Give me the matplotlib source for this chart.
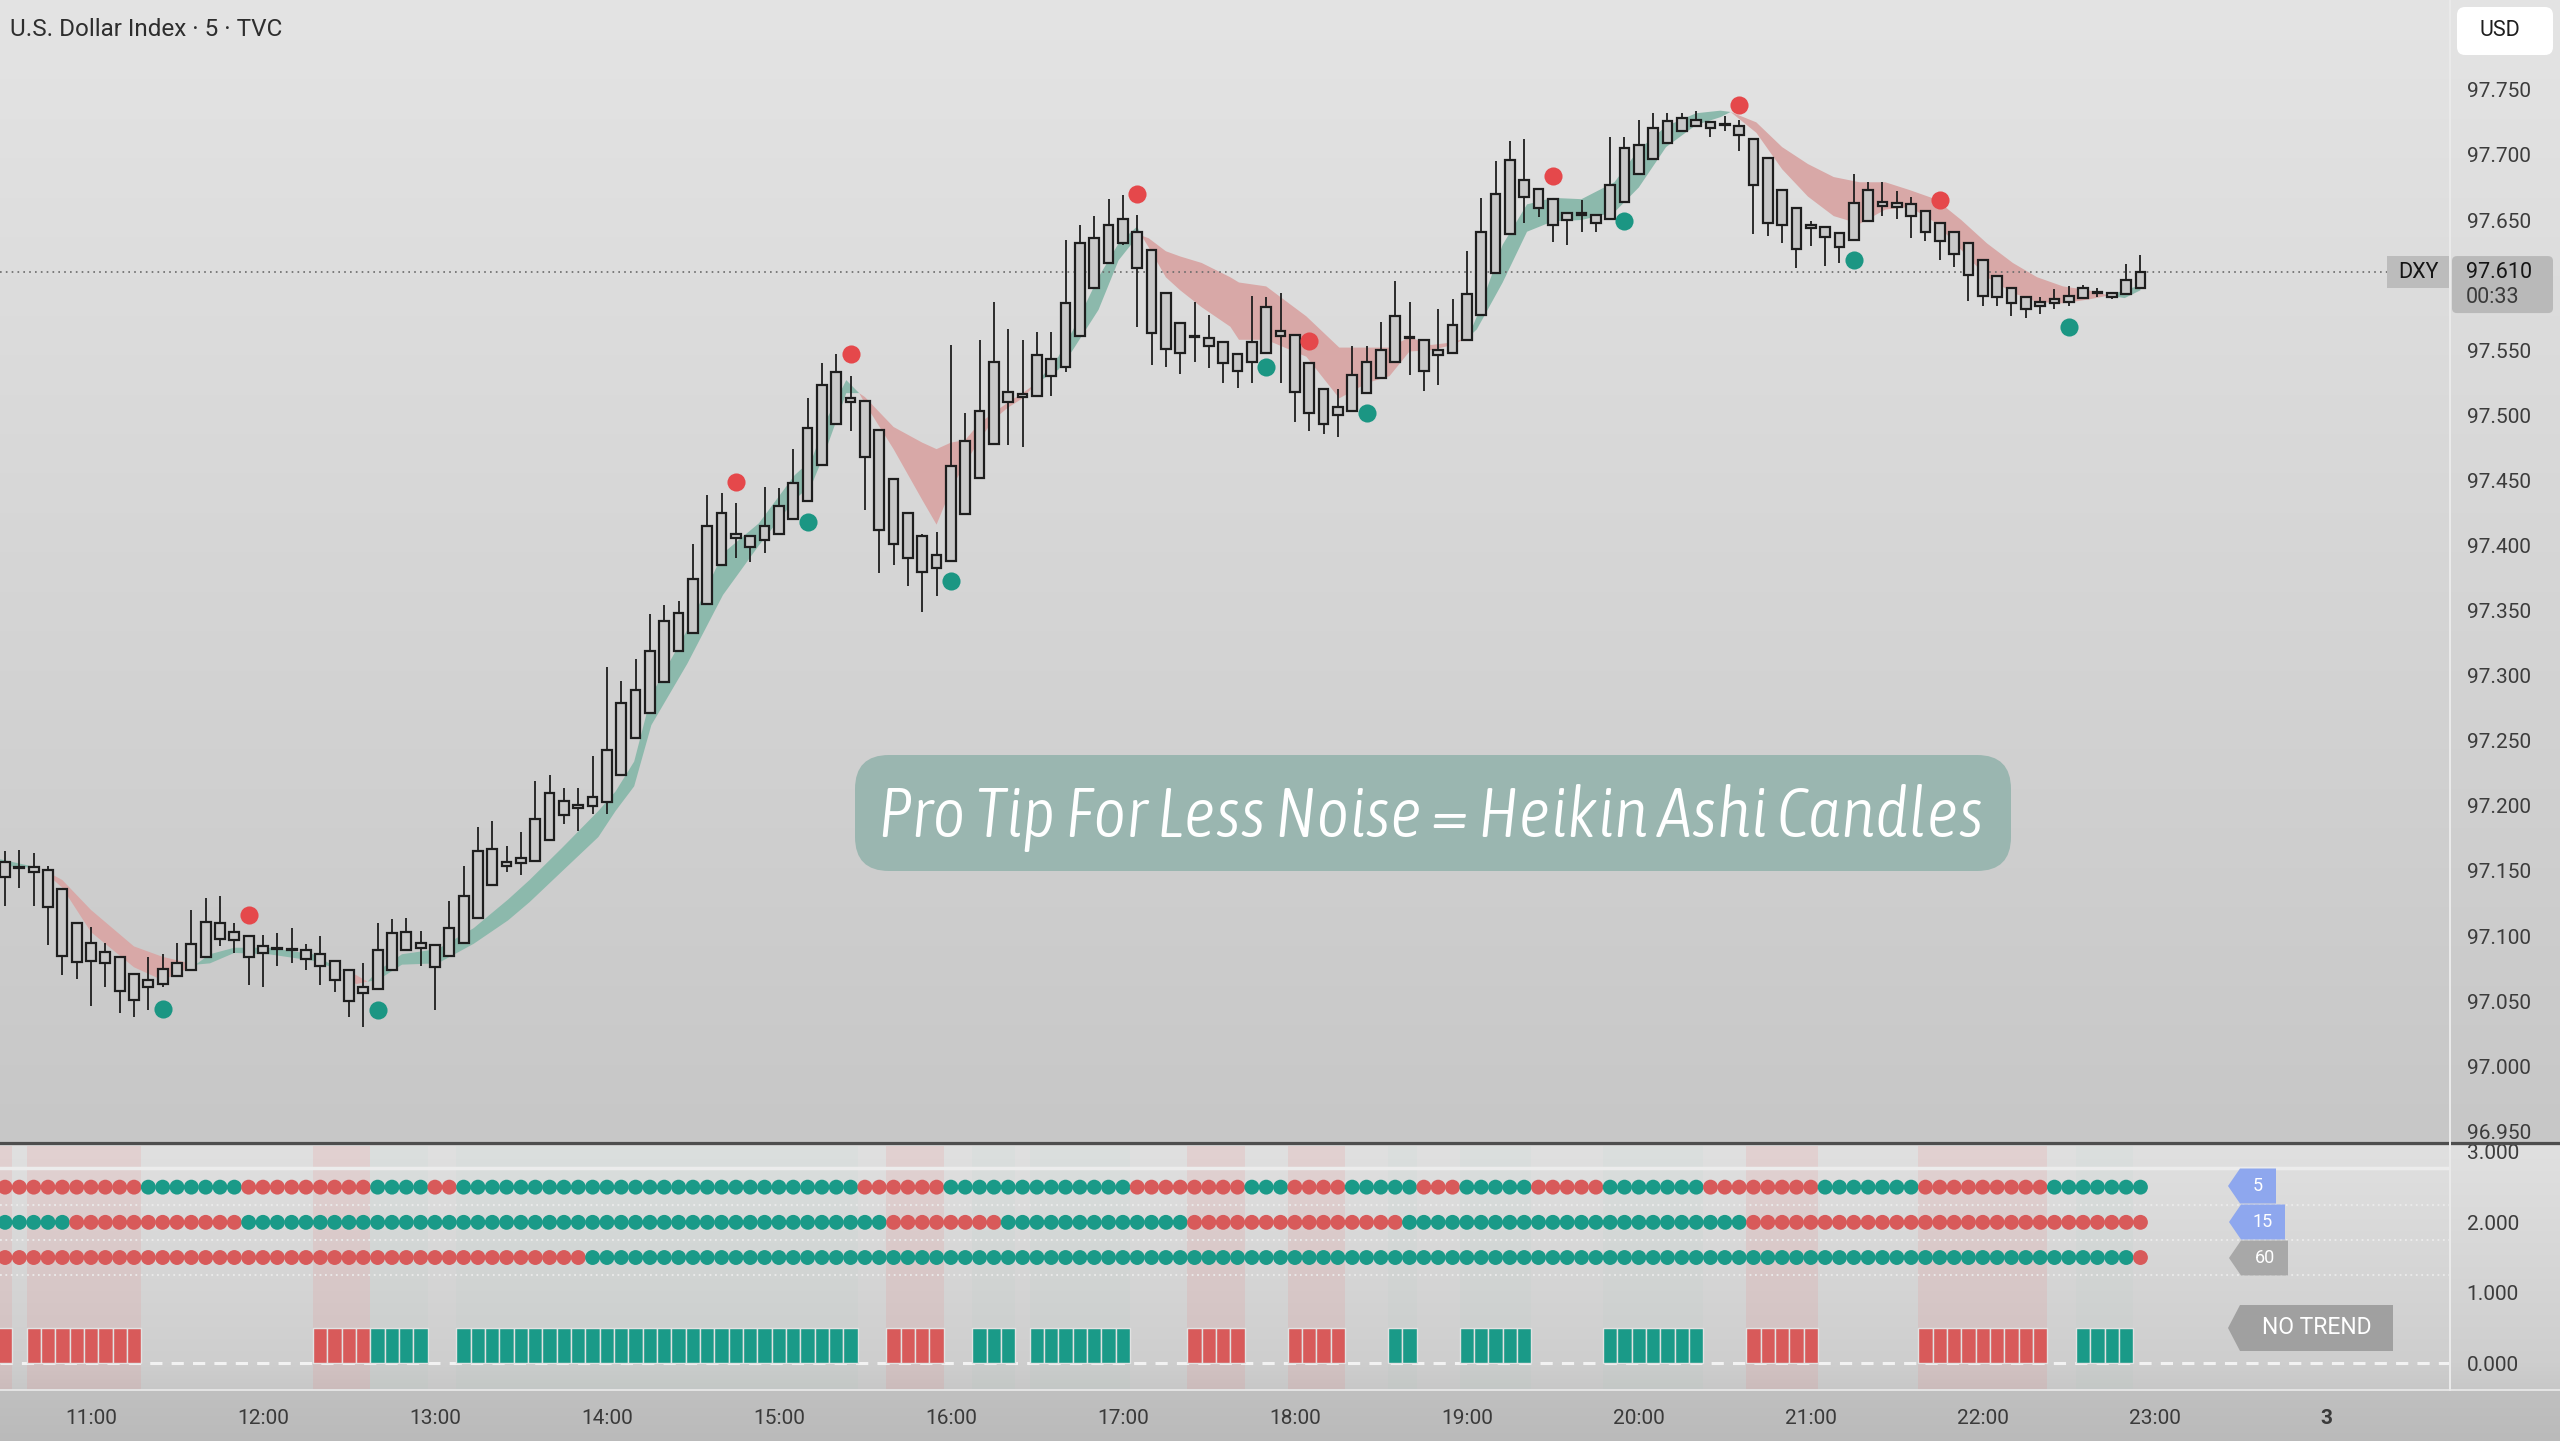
import os
import numpy as np
import matplotlib
matplotlib.use("Agg")
import matplotlib.pyplot as plt
from matplotlib import font_manager as fm
from matplotlib.font_manager import FontProperties
from matplotlib.patches import FancyBboxPatch, Polygon, Rectangle
from matplotlib.lines import Line2D

plt.rcParams['font.family'] = ['Roboto', 'DejaVu Sans']

# ---- U.S. Dollar Index, 5 min Heikin Ashi candles; bar 0 = 11:00, first bar = 10:30
bar_start = -6
opens = [97.157, 97.153, 97.153, 97.151, 97.136, 97.110, 97.095, 97.088, 97.084, 97.071,
         97.061, 97.063, 97.069, 97.074, 97.084, 97.098, 97.103, 97.100, 97.092, 97.091,
         97.090, 97.089, 97.086, 97.081, 97.074, 97.061, 97.059, 97.074, 97.089, 97.091,
         97.093, 97.085, 97.095, 97.114, 97.139, 97.157, 97.156, 97.158, 97.174, 97.204,
         97.201, 97.200, 97.203, 97.224, 97.252, 97.271, 97.295, 97.319, 97.333, 97.355,
         97.385, 97.409, 97.407, 97.404, 97.409, 97.420, 97.434, 97.462, 97.493, 97.513,
         97.511, 97.489, 97.451, 97.425, 97.407, 97.393, 97.388, 97.424, 97.452, 97.478,
         97.510, 97.514, 97.515, 97.530, 97.537, 97.561, 97.598, 97.617, 97.632, 97.641,
         97.627, 97.594, 97.571, 97.561, 97.559, 97.556, 97.547, 97.541, 97.548, 97.565,
         97.562, 97.540, 97.520, 97.506, 97.503, 97.517, 97.529, 97.541, 97.560, 97.558,
         97.546, 97.548, 97.558, 97.577, 97.609, 97.639, 97.681, 97.674, 97.666, 97.655,
         97.655, 97.654, 97.651, 97.664, 97.685, 97.697, 97.709, 97.718, 97.722, 97.725,
         97.724, 97.722, 97.712, 97.698, 97.673, 97.659, 97.646, 97.645, 97.640, 97.635,
         97.649, 97.661, 97.660, 97.662, 97.657, 97.648, 97.641, 97.632, 97.619, 97.607,
         97.598, 97.591, 97.587, 97.586, 97.587, 97.590, 97.594, 97.594, 97.593, 97.598]
highs = [97.165, 97.166, 97.164, 97.154, 97.136, 97.110, 97.107, 97.095, 97.084, 97.071,
         97.084, 97.086, 97.095, 97.120, 97.129, 97.131, 97.110, 97.100, 97.101, 97.102,
         97.106, 97.094, 97.100, 97.081, 97.074, 97.079, 97.110, 97.113, 97.114, 97.104,
         97.093, 97.127, 97.154, 97.184, 97.188, 97.169, 97.180, 97.219, 97.224, 97.214,
         97.214, 97.238, 97.307, 97.296, 97.313, 97.347, 97.354, 97.357, 97.401, 97.439,
         97.440, 97.433, 97.407, 97.445, 97.444, 97.474, 97.513, 97.540, 97.547, 97.530,
         97.511, 97.489, 97.451, 97.425, 97.409, 97.410, 97.554, 97.502, 97.558, 97.587,
         97.566, 97.558, 97.564, 97.564, 97.635, 97.646, 97.653, 97.666, 97.669, 97.654,
         97.627, 97.594, 97.571, 97.587, 97.577, 97.556, 97.547, 97.592, 97.591, 97.594,
         97.562, 97.540, 97.520, 97.520, 97.553, 97.553, 97.572, 97.603, 97.587, 97.558,
         97.582, 97.589, 97.626, 97.667, 97.695, 97.711, 97.712, 97.674, 97.666, 97.655,
         97.665, 97.654, 97.714, 97.714, 97.727, 97.732, 97.732, 97.732, 97.734, 97.725,
         97.730, 97.727, 97.712, 97.698, 97.673, 97.659, 97.649, 97.645, 97.640, 97.685,
         97.679, 97.679, 97.672, 97.668, 97.657, 97.648, 97.641, 97.632, 97.619, 97.607,
         97.598, 97.591, 97.591, 97.597, 97.599, 97.600, 97.598, 97.594, 97.616, 97.623]
lows = [97.123, 97.137, 97.123, 97.093, 97.070, 97.067, 97.046, 97.061, 97.041, 97.038,
        97.043, 97.061, 97.069, 97.074, 97.084, 97.092, 97.087, 97.062, 97.061, 97.077,
        97.079, 97.074, 97.062, 97.057, 97.038, 97.030, 97.059, 97.074, 97.089, 97.077,
        97.043, 97.085, 97.095, 97.114, 97.139, 97.149, 97.147, 97.158, 97.174, 97.186,
        97.181, 97.194, 97.194, 97.224, 97.252, 97.271, 97.295, 97.319, 97.333, 97.355,
        97.385, 97.390, 97.387, 97.394, 97.409, 97.420, 97.434, 97.462, 97.493, 97.488,
        97.427, 97.379, 97.385, 97.369, 97.349, 97.361, 97.388, 97.424, 97.452, 97.478,
        97.477, 97.476, 97.515, 97.515, 97.533, 97.561, 97.598, 97.617, 97.631, 97.568,
        97.539, 97.537, 97.532, 97.541, 97.536, 97.525, 97.521, 97.525, 97.548, 97.525,
        97.495, 97.488, 97.486, 97.483, 97.503, 97.517, 97.529, 97.541, 97.531, 97.519,
        97.523, 97.548, 97.558, 97.577, 97.609, 97.639, 97.648, 97.652, 97.633, 97.631,
        97.641, 97.641, 97.651, 97.664, 97.685, 97.697, 97.709, 97.718, 97.722, 97.714,
        97.718, 97.703, 97.639, 97.638, 97.632, 97.613, 97.630, 97.615, 97.617, 97.635,
        97.649, 97.653, 97.651, 97.636, 97.634, 97.619, 97.614, 97.588, 97.584, 97.584,
        97.576, 97.575, 97.578, 97.582, 97.584, 97.590, 97.591, 97.589, 97.593, 97.598]
closes = [97.145, 97.152, 97.149, 97.122, 97.085, 97.080, 97.081, 97.079, 97.058, 97.051,
          97.066, 97.075, 97.079, 97.094, 97.111, 97.110, 97.097, 97.084, 97.087, 97.090,
          97.089, 97.082, 97.077, 97.066, 97.050, 97.056, 97.089, 97.102, 97.103, 97.095,
          97.076, 97.106, 97.131, 97.165, 97.167, 97.154, 97.160, 97.190, 97.210, 97.193,
          97.198, 97.207, 97.243, 97.279, 97.289, 97.319, 97.342, 97.348, 97.374, 97.415,
          97.425, 97.406, 97.399, 97.415, 97.430, 97.448, 97.490, 97.523, 97.533, 97.510,
          97.468, 97.412, 97.401, 97.390, 97.380, 97.383, 97.461, 97.480, 97.503, 97.541,
          97.518, 97.516, 97.546, 97.543, 97.586, 97.632, 97.636, 97.646, 97.651, 97.613,
          97.563, 97.551, 97.548, 97.560, 97.553, 97.540, 97.534, 97.556, 97.583, 97.561,
          97.518, 97.502, 97.493, 97.500, 97.531, 97.541, 97.550, 97.576, 97.559, 97.534,
          97.550, 97.569, 97.593, 97.641, 97.670, 97.696, 97.668, 97.659, 97.646, 97.650,
          97.654, 97.648, 97.677, 97.705, 97.708, 97.721, 97.726, 97.728, 97.727, 97.721,
          97.723, 97.715, 97.677, 97.648, 97.646, 97.628, 97.644, 97.637, 97.629, 97.663,
          97.673, 97.664, 97.663, 97.653, 97.641, 97.634, 97.624, 97.608, 97.592, 97.591,
          97.586, 97.582, 97.584, 97.589, 97.592, 97.598, 97.595, 97.591, 97.604, 97.610]

# moving-average ribbon (fast / slow), read at these bar positions
band_x = [-6.35, -3.5, -2, 0, 3, 5, 7.3, 8.3, 10, 12.4, 15.5, 17.6, 18.5, 19.3, 20, 21.7,
          24.2, 26.7, 29.1, 30.6, 32.9, 35.4, 36.6, 37.9, 39.1, 41.6, 44.1, 46.6, 49.1,
          50.3, 51.2, 52.7, 53.6, 54, 56, 58, 59, 60, 61, 62, 63, 64, 65, 66, 67.5, 68.5,
          70.3, 71.7, 73, 73.3, 73.8, 75, 76, 77.5, 79.5, 80.1, 82, 84.8, 87.1, 89.1,
          90.6, 92, 93.5, 95, 96.1, 96.7, 98.5, 100.2, 102, 104, 106.3, 108, 109.9, 112,
          113.7, 114.4, 116.2, 118, 119.8, 121.6, 123.4, 125.2, 126.9, 128.7, 130.5,
          132.3, 134.1, 135.8, 137.6, 139.4, 140.8, 141.9, 143]
band_fast = [97.159, 97.152, 97.137, 97.103, 97.076, 97.066, 97.078, 97.086, 97.091, 97.091,
             97.086, 97.073, 97.063, 97.065, 97.073, 97.086, 97.090, 97.106, 97.128, 97.143,
             97.168, 97.196, 97.211, 97.234, 97.285, 97.335, 97.394, 97.417, 97.454, 97.466,
             97.494, 97.527, 97.517, 97.509, 97.474, 97.435, 97.416, 97.443, 97.463, 97.481,
             97.497, 97.506, 97.513, 97.525, 97.545, 97.565, 97.606, 97.632, 97.645, 97.638,
             97.629, 97.606, 97.596, 97.583, 97.568, 97.558, 97.558, 97.545, 97.513, 97.525,
             97.530, 97.549, 97.550, 97.554, 97.560, 97.576, 97.631, 97.662, 97.667, 97.666,
             97.679, 97.704, 97.722, 97.732, 97.734, 97.733, 97.717, 97.689, 97.668, 97.653,
             97.647, 97.658, 97.660, 97.648, 97.627, 97.606, 97.594, 97.587, 97.586, 97.589,
             97.592, 97.596, 97.600]
band_slow = [97.154, 97.152, 97.143, 97.120, 97.092, 97.084, 97.078, 97.079, 97.087, 97.086,
             97.081, 97.073, 97.070, 97.065, 97.066, 97.078, 97.079, 97.094, 97.112, 97.126,
             97.150, 97.176, 97.196, 97.215, 97.262, 97.309, 97.362, 97.400, 97.435, 97.447,
             97.471, 97.517, 97.517, 97.514, 97.491, 97.479, 97.474, 97.479, 97.481, 97.494,
             97.502, 97.510, 97.517, 97.525, 97.535, 97.550, 97.581, 97.619, 97.637, 97.638,
             97.636, 97.626, 97.622, 97.617, 97.606, 97.602, 97.599, 97.576, 97.552, 97.552,
             97.552, 97.560, 97.554, 97.556, 97.560, 97.566, 97.602, 97.641, 97.649, 97.650,
             97.656, 97.675, 97.706, 97.723, 97.729, 97.733, 97.725, 97.706, 97.693, 97.683,
             97.679, 97.679, 97.673, 97.666, 97.650, 97.632, 97.617, 97.606, 97.599, 97.596,
             97.592, 97.590, 97.596]

pivot_hi_bar = [11, 45, 53, 73, 85, 102, 115, 129]
pivot_hi_val = [97.116, 97.449, 97.547, 97.670, 97.557, 97.684, 97.738, 97.665]
pivot_lo_bar = [5, 20, 50, 60, 82, 89, 107, 123, 138]
pivot_lo_val = [97.044, 97.043, 97.418, 97.373, 97.537, 97.502, 97.649, 97.619, 97.568]

last_price = 97.610
price_ticks = [96.95, 97.00, 97.05, 97.10, 97.15, 97.20, 97.25, 97.30, 97.35, 97.40,
               97.45, 97.50, 97.55, 97.65, 97.70, 97.75]
time_ticks = [0, 12, 24, 36, 48, 60, 72, 84, 96, 108, 120, 132, 144, 156]
time_labels = ['11:00', '12:00', '13:00', '14:00', '15:00', '16:00', '17:00', '18:00',
               '19:00', '20:00', '21:00', '22:00', '23:00', '3']

# multi-timeframe trend rows (R = down, G = up), run-length encoded
tf5_runs = [('R', 10), ('G', 7), ('R', 9), ('G', 4), ('R', 2), ('G', 28), ('R', 6), ('G', 13),
            ('R', 8), ('G', 3), ('R', 4), ('G', 5), ('R', 3), ('G', 5), ('R', 5), ('G', 7),
            ('R', 8), ('G', 7), ('R', 9), ('G', 7)]
tf15_runs = [('G', 5), ('R', 12), ('G', 45), ('R', 8), ('G', 13), ('R', 15), ('G', 24), ('R', 28)]
tf60_runs = [('R', 41), ('G', 108), ('R', 1)]
trend_runs = [('R', 1), ('-', 1), ('R', 8), ('-', 12), ('R', 4), ('G', 4), ('-', 2), ('G', 28),
              ('-', 2), ('R', 4), ('-', 2), ('G', 3), ('-', 1), ('G', 7), ('-', 4), ('R', 4),
              ('-', 3), ('R', 4), ('-', 3), ('G', 2), ('-', 3), ('G', 5), ('-', 5), ('G', 7),
              ('-', 3), ('R', 5), ('-', 7), ('R', 9), ('-', 2), ('G', 4), ('-', 1)]
row_levels = {'5': 2.5, '15': 2.0, '60': 1.5}


def expand(runs):
    return [c for c, n in runs for _ in range(n)]


def pick_banner_font():
    best, best_score = None, -99
    for f in fm.fontManager.ttflist:
        if f.style == 'normal':
            continue
        key = (f.name + ' ' + os.path.basename(f.fname)).lower()
        if 'mono' in key or ('serif' in key and 'sans' not in key) or 'cjk' in key:
            continue
        score = 0.0
        if 'narrow' in key or 'condensed' in key or 'condensed' in str(f.stretch):
            score += 4
        w = f.weight if isinstance(f.weight, (int, float)) else 400
        score -= abs(w - 300) / 200.0
        if score > best_score:
            best, best_score = f, score
    return best.fname if best else None


W, H = 2560, 1441
fig = plt.figure(figsize=(W / 100, H / 100), dpi=100)

# background gradient (screenshot shading)
stops_y = [0, 1143, 1146, 1363, 1390, 1391, 1441]
stops_g = [228, 199, 224, 206, 199, 192, 186]
rows = np.interp(np.arange(H), stops_y, stops_g) / 255.0
bg = fig.add_axes([0, 0, 1, 1], zorder=-10)
bg.imshow(np.repeat(rows[:, None, None], 3, axis=2) * np.ones((1, 4, 1)),
          aspect='auto', extent=(0, 1, 0, 1), interpolation='bilinear')
bg.axis('off')

ax = fig.add_axes([0, 1 - 1143 / H, 2450 / W, 1143 / H], zorder=1)
ax2 = fig.add_axes([0, 1 - 1390 / H, 2450 / W, (1390 - 1146) / H], zorder=1, sharex=ax)
for a in (ax, ax2):
    a.set_facecolor('none')
    for s in a.spines.values():
        s.set_visible(False)

x = np.arange(len(opens)) + bar_start
o, h, l, c = map(np.array, (opens, highs, lows, closes))
body_lo = np.minimum(o, c)
body_hi = np.maximum(o, c)

# ribbon
bx = np.array(band_x)
bf = np.array(band_fast)
bs = np.array(band_slow)
ax.fill_between(bx, bf, bs, where=bf >= bs, interpolate=True, color='#8cb9ac', lw=0, zorder=1)
ax.fill_between(bx, bf, bs, where=bf <= bs, interpolate=True, color='#d8a8a7', lw=0, zorder=1)

ax.axhline(last_price, color='#6a6a6a', lw=1.2, ls=(0, (1, 2.5)), zorder=1.5)

ax.vlines(x, l, h, color='#1e1e1e', lw=1.3, zorder=2)
ax.bar(x, np.maximum(body_hi - body_lo, 0.0004), bottom=body_lo, width=0.68,
       facecolor='#c8c8c8', edgecolor='#1e1e1e', linewidth=1.6, zorder=3)

ax.scatter(pivot_hi_bar, pivot_hi_val, s=170, color='#e5484b', lw=0, zorder=4)
ax.scatter(pivot_lo_bar, pivot_lo_val, s=170, color='#1b9683', lw=0, zorder=4)

ax.set_xlim(-6.35, 164.6)
ax.set_ylim(96.941, 97.819)
ax.yaxis.tick_right()
ax.set_yticks(price_ticks)
ax.set_yticklabels(['%.3f' % v for v in price_ticks])
ax.tick_params(axis='y', length=0, pad=12, labelsize=15, labelcolor='#3c3c3c')
ax.tick_params(axis='x', length=0, labelbottom=False)

# lower pane: trend rows and bars
red_c, green_c = '#d85a5a', '#1a9a88'
trend = expand(trend_runs)
pos = bar_start
for col, n in trend_runs:
    if col != '-':
        ax2.axvspan(pos - 0.5, pos + n - 0.5, color='#f06a6a' if col == 'R' else '#6fc9ae',
                    alpha=0.12 if col == 'R' else 0.04, lw=0, zorder=0)
    pos += n

for lvl in (2.25, 1.75, 1.25):
    ax2.axhline(lvl, color='#ececec', lw=1.3, ls=(0, (1, 2)), zorder=1)
ax2.axhline(2.77, color='#ececec', lw=2.5, zorder=1)
ax2.axhline(0, color='#f2f2f2', lw=2.2, ls=(0, (4, 3)), zorder=1)

for name, runs in (('5', tf5_runs), ('15', tf15_runs), ('60', tf60_runs)):
    cols = [red_c if v == 'R' else green_c for v in expand(runs)]
    ax2.scatter(x, [row_levels[name]] * len(x), c=cols, s=115, lw=0, zorder=3)

for col in ('R', 'G'):
    sel = [xi for xi, t in zip(x, trend) if t == col]
    ax2.bar(sel, 0.5, bottom=0, width=1.0, color=red_c if col == 'R' else green_c,
            edgecolor='#e2e2e2', linewidth=1.0, zorder=3)

ax2.set_ylim(-0.383, 3.085)
ax2.yaxis.tick_right()
ax2.set_yticks([0, 1, 2, 3])
ax2.set_yticklabels(['%.3f' % v for v in [0, 1, 2, 3]])
ax2.tick_params(axis='y', length=0, pad=12, labelsize=15, labelcolor='#3c3c3c')
ax2.set_xticks(time_ticks)
ax2.set_xticklabels(time_labels)
ax2.tick_params(axis='x', length=0, pad=14, labelsize=15, labelcolor='#3a3a3a')
ax2.get_xticklabels()[-1].set_fontweight('bold')

# overlay in pixel coordinates for labels and frame lines
ov = fig.add_axes([0, 0, 1, 1], zorder=10)
ov.set_xlim(0, W)
ov.set_ylim(H, 0)
ov.axis('off')
ov.add_line(Line2D([0, W], [1143, 1143], color='#4e4e4e', lw=2.3))
ov.add_line(Line2D([0, W], [1390, 1390], color='#e4e4e4', lw=1.4))
ov.add_line(Line2D([2450, 2450], [0, 1390], color='#ebebeb', lw=1.4))

ov.text(10, 29, 'U.S. Dollar Index · 5 · TVC', fontsize=17.5, color='#2e2e2e',
        ha='left', va='center')

ov.add_patch(FancyBboxPatch((2457, 7), 96, 48, boxstyle='round,pad=0,rounding_size=8',
                            fc='white', ec='none'))
ov.text(2500, 31, 'USD', fontsize=15.5, color='#1e1e1e', ha='center', va='center')

py = H - ax.transData.transform((0, last_price))[1]
ov.add_patch(Rectangle((2387, py - 16), 62, 32, fc='#bcbcbc', ec='none'))
ov.text(2418, py, 'DXY', fontsize=15.5, color='#151515', ha='center', va='center')
ov.add_patch(FancyBboxPatch((2452, py - 16), 101, 57, boxstyle='round,pad=0,rounding_size=5',
                            fc='#b9b9b9', ec='none'))
ov.text(2466, py, '%.3f' % last_price, fontsize=15.5, color='#151515', ha='left', va='center')
ov.text(2466, py + 25, '00:33', fontsize=15.5, color='#3a3a3a', ha='left', va='center')


def tag(x0, x1, yc, hh, label, fc, fs):
    pts = [(x0, yc), (x0 + 12, yc - hh / 2), (x1, yc - hh / 2), (x1, yc + hh / 2),
           (x0 + 12, yc + hh / 2)]
    ov.add_patch(Polygon(pts, closed=True, fc=fc, ec='none', joinstyle='round'))
    ov.text((x0 + 12 + x1) / 2, yc, label, fontsize=fs, color='white', ha='center', va='center')


tag(2228, 2276, 1186, 35, '5', '#8ea7ee', 13)
tag(2229, 2285, 1222, 35, '15', '#8ea7ee', 13)
tag(2229, 2288, 1258, 35, '60', '#a8a8a8', 13)
tag(2228, 2393, 1328, 46, 'NO TREND', '#a0a0a0', 16.5)

# banner
ov.add_patch(FancyBboxPatch((855, 755), 1156, 116, boxstyle='round,pad=0,rounding_size=34',
                            fc='#9ab6b0', ec='none'))
fname = pick_banner_font()
fp = FontProperties(fname=fname) if fname else FontProperties(style='italic')
fp.set_size(54)
banner = ov.text(1431, 837, 'Pro Tip For Less Noise = Heikin Ashi Candles', fontproperties=fp,
                 color='white', ha='center', va='baseline')
renderer = fig.canvas.get_renderer()
bw = banner.get_window_extent(renderer).width
banner.set_fontsize(min(60, 54 * 1106 / bw))

fig.savefig('out.png', dpi=100)
